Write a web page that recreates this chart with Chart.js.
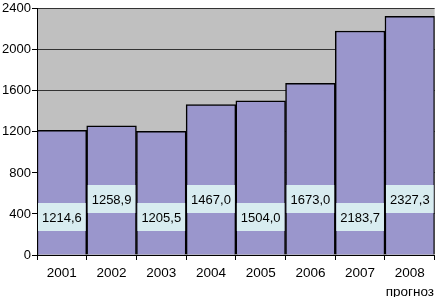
<!DOCTYPE html>
<html>
<head>
    <title>Прогноз</title>
    <script src="https://cdn.jsdelivr.net/npm/chart.js"></script>
    <style>
        body { margin: 0; background: #fff; }
    </style>
</head>
<body>
    <canvas id="chart" width="437" height="297"></canvas>

    <script>
        const years = ["2001", "2002", "2003", "2004", "2005", "2006", "2007", "2008"];
        const yearNotes = ["", "", "", "", "", "", "", "прогноз"];
        const values = [1214.6, 1258.9, 1205.5, 1467.0, 1504.0, 1673.0, 2183.7, 2327.3];
        const yTicks = [0, 400, 800, 1200, 1600, 2000, 2400];

        const labels = years.map((y, i) => yearNotes[i] ? [y, yearNotes[i]] : y);

        // grey plot background
        const plotBg = {
            id: "plotBg",
            beforeDraw(chart) {
                const { ctx, chartArea: a } = chart;
                ctx.save();
                ctx.fillStyle = "#c0c0c0";
                ctx.fillRect(a.left, a.top, a.right - a.left, a.bottom - a.top);
                ctx.restore();
            }
        };

        // value boxes, alternating low / high
        const valueBoxes = {
            id: "valueBoxes",
            afterDatasetsDraw(chart) {
                const { ctx } = chart;
                const bars = chart.getDatasetMeta(0).data;
                ctx.save();
                ctx.font = "13px Arial, 'Liberation Sans'";
                ctx.textAlign = "center";
                ctx.textBaseline = "middle";
                bars.forEach((bar, i) => {
                    const w = bar.width - 2;
                    const h = 28;
                    const cy = chart.chartArea.bottom - (i % 2 === 0 ? 38 : 56);
                    ctx.fillStyle = "#d8ecf0";
                    ctx.fillRect(bar.x - w / 2, cy - h / 2, w, h);
                    ctx.fillStyle = "#000";
                    ctx.fillText(values[i].toFixed(1).replace(".", ","), bar.x, cy + 1);
                });
                ctx.restore();
            }
        };

        new Chart(document.getElementById("chart"), {
            type: "bar",
            data: {
                labels: labels,
                datasets: [{
                    data: values,
                    backgroundColor: "#9a96cc",
                    borderColor: "#000",
                    borderWidth: 1.5,
                    barPercentage: 1,
                    categoryPercentage: 1
                }]
            },
            options: {
                responsive: false,
                animation: false,
                layout: { padding: { top: 6, right: 1, left: 0, bottom: 0 } },
                plugins: {
                    legend: { display: false },
                    tooltip: { enabled: false }
                },
                scales: {
                    x: {
                        offset: true,
                        grid: {
                            offset: true,
                            drawOnChartArea: false,
                            tickLength: 5,
                            color: "#000"
                        },
                        border: { color: "#000", width: 1 },
                        ticks: {
                            color: "#000",
                            font: { family: "Arial, 'Liberation Sans'", size: 13.5, lineHeight: 1.45 },
                            padding: 3,
                            autoSkip: false,
                            maxRotation: 0
                        },
                        afterFit(axis) { axis.height = 42; }
                    },
                    y: {
                        min: 0,
                        max: 2400,
                        afterBuildTicks(axis) {
                            axis.ticks = yTicks.map(v => ({ value: v }));
                        },
                        grid: {
                            color: "#333",
                            tickColor: "#000",
                            tickLength: 5
                        },
                        border: { color: "#000", width: 1 },
                        ticks: {
                            color: "#000",
                            font: { family: "Arial, 'Liberation Sans'", size: 13 },
                            padding: 1,
                            callback: v => String(v)
                        },
                        afterFit(axis) { axis.width = 37; }
                    }
                }
            },
            plugins: [plotBg, valueBoxes]
        });
    </script>
</body>
</html>
